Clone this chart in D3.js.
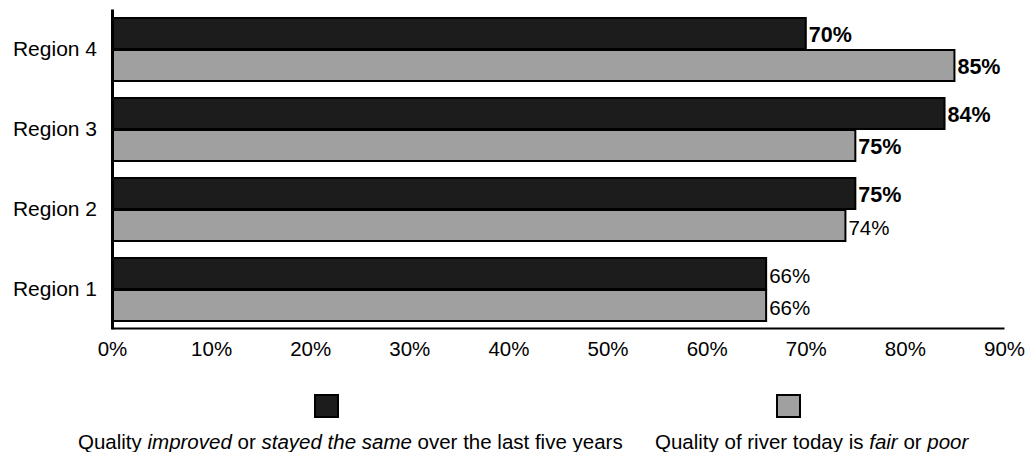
<!DOCTYPE html>
<html><head><meta charset="utf-8">
<script src="https://cdn.jsdelivr.net/npm/d3@7"></script>
<style>
body{margin:0;background:#fff;}
text{font-family:"Liberation Sans",Arial,sans-serif;fill:#000;}
</style></head>
<body><svg id="c" width="1028" height="452"></svg>
<script>
const categories = ["Region 4","Region 3","Region 2","Region 1"];
const improved = [70,84,75,66];
const fairPoor = [85,75,74,66];
const improvedSignificant = [true,true,true,false];
const fairPoorSignificant = [true,true,false,false];
const tickValues = [0,10,20,30,40,50,60,70,80,90];
const seriesNames = ["improved","fairPoor"];

const svg = d3.select("#c");
const x = d3.scaleLinear().domain([0,90]).range([112,1004]);
const y = d3.scaleBand().domain(categories).range([9,329]).paddingInner(0.2).paddingOuter(0.1);
const y2 = d3.scaleBand().domain(seriesNames).range([0,y.bandwidth()]);
const colors = {improved:"#1c1c1c", fairPoor:"#a0a0a0"};

const rows = categories.map((c,i)=>({c, vals:[
  {k:"improved", v:improved[i], b:improvedSignificant[i]},
  {k:"fairPoor", v:fairPoor[i], b:fairPoorSignificant[i]}]}));

const g = svg.selectAll("g.cat").data(rows).join("g").attr("class","cat")
  .attr("transform",d=>`translate(0,${y(d.c)})`);
g.selectAll("rect").data(d=>d.vals).join("rect")
  .attr("x",x(0)).attr("y",d=>y2(d.k)+1)
  .attr("width",d=>x(d.v)-x(0)).attr("height",y2.bandwidth()-1)
  .attr("fill",d=>colors[d.k]).attr("stroke","#000").attr("stroke-width",2);
g.selectAll("text.val").data(d=>d.vals).join("text").attr("class","val")
  .attr("x",d=>x(d.v)+3).attr("y",d=>y2(d.k)+y2.bandwidth()/2+2)
  .attr("dominant-baseline","central")
  .style("font-size",d=>d.b?"21.5px":"20.5px").style("font-weight",d=>d.b?"bold":"normal")
  .text(d=>d.v+"%");

const xa = svg.append("g").attr("transform","translate(0,328)")
  .call(d3.axisBottom(x).tickValues(tickValues).tickSize(0).tickSizeOuter(0).tickPadding(13).tickFormat(d=>d+"%"));
xa.select(".domain").attr("stroke","#000").attr("stroke-width",2);
xa.selectAll("text").style("font-size","20.5px").style("font-family","'Liberation Sans',Arial,sans-serif");

const ya = svg.append("g").attr("transform","translate(112,0)")
  .call(d3.axisLeft(y).tickSize(0).tickSizeOuter(0).tickPadding(15));
ya.select(".domain").attr("stroke","#000").attr("stroke-width",3);
ya.selectAll("text").style("font-size","21px").style("font-family","'Liberation Sans',Arial,sans-serif");

// legend
const leg = [
  {k:"improved", x:315, tx:78, parts:[["Quality ",false],["improved",true],[" or ",false],["stayed the same",true],[" over the last five years",false]]},
  {k:"fairPoor", x:777, tx:655, parts:[["Quality of river today is ",false],["fair",true],[" or ",false],["poor",true]]}
];
const lg = svg.selectAll("g.leg").data(leg).join("g").attr("class","leg");
lg.append("rect").attr("x",d=>d.x).attr("y",395).attr("width",23).attr("height",22)
  .attr("fill",d=>colors[d.k]).attr("stroke","#000").attr("stroke-width",2);
lg.append("text").attr("x",d=>d.tx).attr("y",448.5).style("font-size","20.5px")
  .attr("xml:space","preserve")
  .selectAll("tspan").data(d=>d.parts).join("tspan")
  .style("font-style",d=>d[1]?"italic":"normal").text(d=>d[0]);
</script></body></html>
